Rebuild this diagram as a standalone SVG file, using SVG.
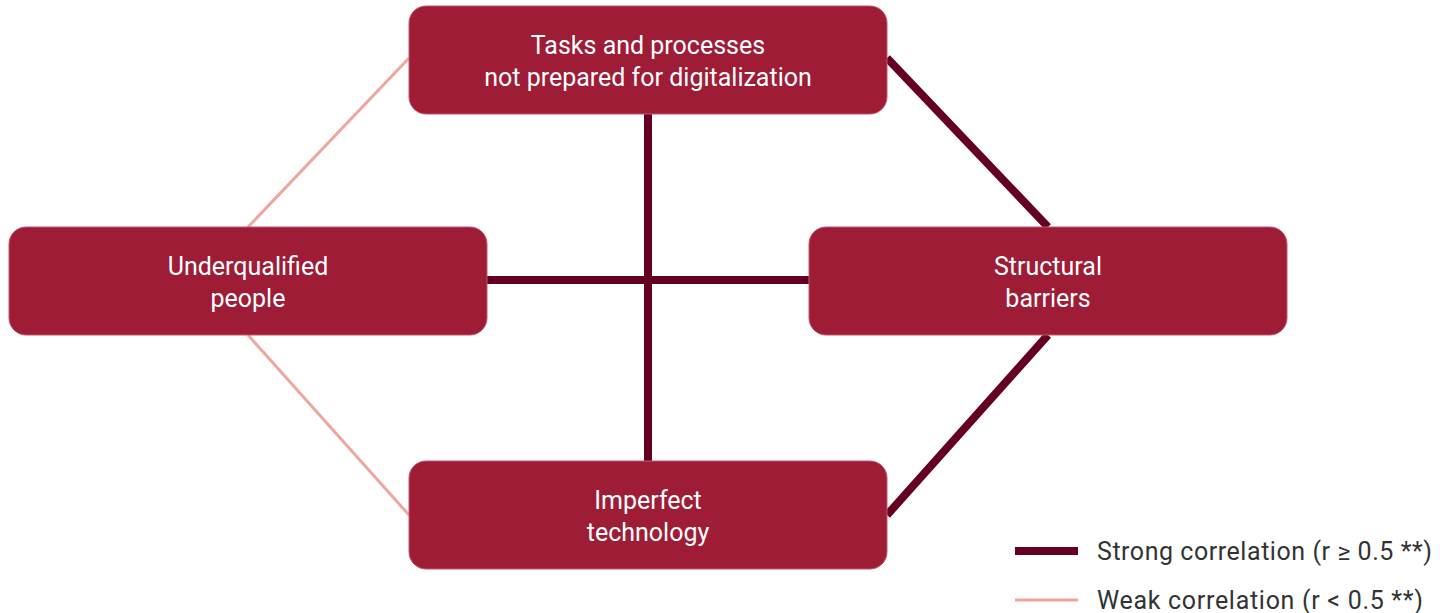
<svg xmlns="http://www.w3.org/2000/svg" width="1445" height="613" viewBox="0 0 1445 613">
<style>
.box{fill:#9E1C36;stroke:#C0576A;stroke-width:1}
.lbl{fill:#ffffff;font-family:Roboto,"Liberation Sans",sans-serif;font-size:25px;text-anchor:middle}
.strong{stroke:#650020;stroke-width:8;fill:none}
.weak{stroke:#EFA79C;stroke-width:3;fill:none}
.leg{fill:#333333;font-family:Roboto,"Liberation Sans",sans-serif;font-size:25px}
</style>
<rect width="1445" height="613" fill="#ffffff"/>
<g id="connectors">
<line class="weak" x1="409" y1="58" x2="248" y2="227"/>
<line class="weak" x1="248" y1="335" x2="409" y2="515"/>
<line class="strong" x1="887" y1="58" x2="1048" y2="227"/>
<line class="strong" x1="1048" y1="335" x2="887" y2="515"/>
<line class="strong" x1="648" y1="114" x2="648" y2="461"/>
<line class="strong" x1="487" y1="280" x2="809" y2="280"/>
</g>
<g id="node-tasks">
<rect class="box" x="409" y="6" width="478" height="108" rx="17"/>
<text class="lbl" x="648" y="54">Tasks and processes</text>
<text class="lbl" x="648" y="86">not prepared for digitalization</text>
</g>
<g id="node-people">
<rect class="box" x="9" y="227" width="478" height="108" rx="17"/>
<text class="lbl" x="248" y="275">Underqualified</text>
<text class="lbl" x="248" y="307">people</text>
</g>
<g id="node-structural">
<rect class="box" x="809" y="227" width="478" height="108" rx="17"/>
<text class="lbl" x="1048" y="275">Structural</text>
<text class="lbl" x="1048" y="307">barriers</text>
</g>
<g id="node-technology">
<rect class="box" x="409" y="461" width="478" height="108" rx="17"/>
<text class="lbl" x="648" y="509">Imperfect</text>
<text class="lbl" x="648" y="541">technology</text>
</g>
<g id="legend">
<line class="strong" x1="1015" y1="551" x2="1078" y2="551"/>
<text class="leg" x="1097" y="560" textLength="335" lengthAdjust="spacing">Strong correlation (r ≥ 0.5 **)</text>
<line class="weak" x1="1015" y1="600" x2="1078" y2="600"/>
<text class="leg" x="1097" y="609" textLength="326" lengthAdjust="spacing">Weak correlation (r &lt; 0.5 **)</text>
</g>
</svg>
